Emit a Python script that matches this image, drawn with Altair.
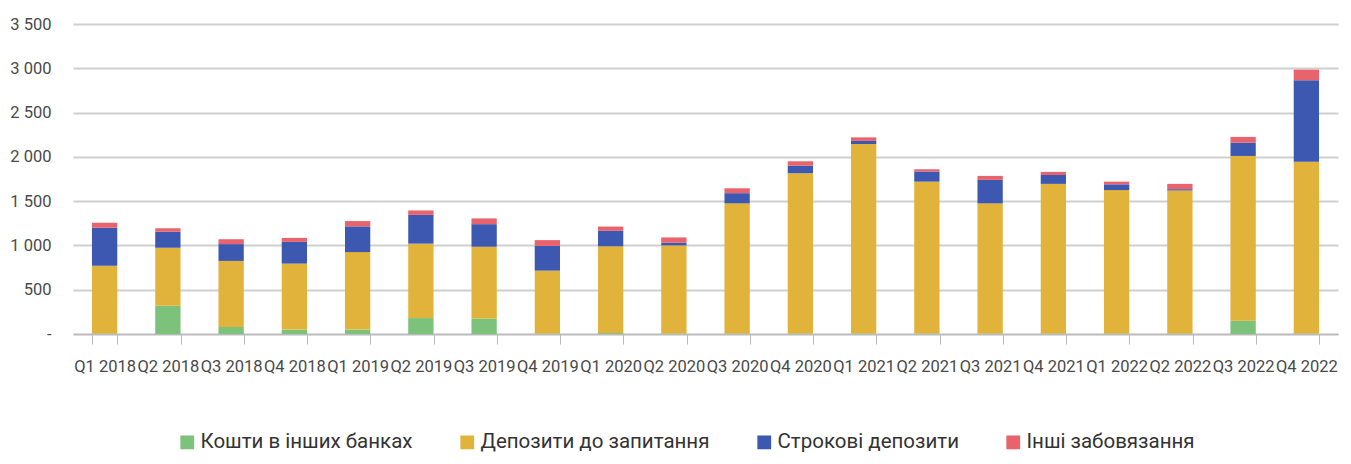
import altair as alt
import pandas as pd

quarters = ["Q1 2018", "Q2 2018", "Q3 2018", "Q4 2018", "Q1 2019", "Q2 2019", "Q3 2019", "Q4 2019",
            "Q1 2020", "Q2 2020", "Q3 2020", "Q4 2020", "Q1 2021", "Q2 2021", "Q3 2021", "Q4 2021",
            "Q1 2022", "Q2 2022", "Q3 2022", "Q4 2022"]

series_names = ["Кошти в інших банках", "Депозити до запитання", "Строкові депозити", "Інші забовязання"]

other_banks = [5, 320, 80, 50, 50, 180, 175, 5, 10, 5, 5, 5, 5, 5, 5, 5, 5, 5, 150, 5]
demand_dep  = [765, 655, 745, 745, 875, 840, 810, 710, 980, 995, 1470, 1810, 2140, 1715, 1470, 1690, 1620, 1615, 1860, 1940]
term_dep    = [430, 180, 190, 245, 290, 325, 255, 280, 175, 30, 115, 85, 35, 115, 265, 100, 65, 15, 150, 920]
other_liab  = [55, 40, 55, 45, 60, 50, 65, 65, 48, 60, 55, 50, 40, 25, 45, 35, 30, 60, 65, 120]

colors = ["#7dc27a", "#e2b33a", "#3d58b0", "#e8636b"]

rows = []
for i, q in enumerate(quarters):
    for k, (name, vals) in enumerate(zip(series_names, [other_banks, demand_dep, term_dep, other_liab])):
        rows.append({"quarter": q, "series": name, "value": vals[i], "order": k})
df = pd.DataFrame(rows)

FONT = "Roboto"

chart = alt.Chart(df).mark_bar().encode(
    x=alt.X("quarter:N", sort=quarters, title=None,
            scale=alt.Scale(paddingInner=0.6, paddingOuter=0.3),
            axis=alt.Axis(labelAngle=0, labelOverlap=False, labelFont=FONT, labelFontSize=16.5,
                          labelColor="#4a4a4a", labelPadding=14, tickBand="extent", tickSize=10,
                          tickColor="#bbbbbb", domainColor="#bbbbbb", domainWidth=1.5, grid=False)),
    y=alt.Y("value:Q", title=None,
            scale=alt.Scale(domain=[0, 3500], nice=False),
            axis=alt.Axis(values=[0, 500, 1000, 1500, 2000, 2500, 3000, 3500],
                          labelExpr="datum.value == 0 ? '-' : replace(format(datum.value, ','), ',', ' ')",
                          labelFont=FONT, labelFontSize=16.5, labelColor="#4a4a4a", labelPadding=22,
                          domain=False, ticks=False, gridColor="#cfcfcf", gridWidth=2)),
    color=alt.Color("series:N", sort=series_names,
                    scale=alt.Scale(domain=series_names, range=colors),
                    legend=alt.Legend(title=None, orient="none", legendX=104, legendY=408,
                                      direction="horizontal", columns=4, columnPadding=44,
                                      symbolType="square", symbolSize=190, symbolStrokeWidth=0,
                                      labelFont=FONT, labelFontSize=20.5, labelColor="#333333",
                                      labelOffset=3, labelLimit=400)),
    order=alt.Order("order:Q", sort="ascending"),
).properties(
    width=1265, height=310,
    padding={"left": 73, "top": 24, "right": 13, "bottom": 130},
    autosize=alt.AutoSizeParams(type="none"),
).configure_view(stroke=None)

chart.save("out.html", embed_options={"renderer": "svg", "actions": False})
